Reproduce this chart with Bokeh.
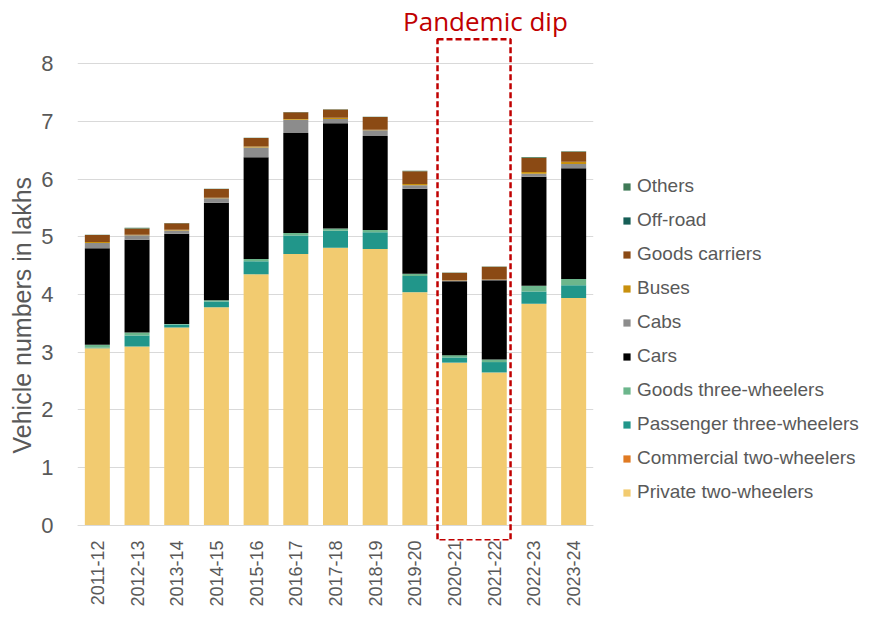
import math
from bokeh.plotting import figure
from bokeh.models import (FactorRange, Range1d, FixedTicker, Legend, LegendItem,
                          BoxAnnotation, Span, Title, Label, ColumnDataSource)
from bokeh.embed import file_html
from bokeh.resources import INLINE

years = ["2011-12", "2012-13", "2013-14", "2014-15", "2015-16", "2016-17", "2017-18",
         "2018-19", "2019-20", "2020-21", "2021-22", "2022-23", "2023-24"]

private_2w = [3.07, 3.10, 3.43, 3.78, 4.35, 4.70, 4.81, 4.79, 4.04, 2.82, 2.65, 3.84, 3.94]
commercial_2w = [0.0, 0.0, 0.0, 0.0, 0.0, 0.0, 0.0, 0.0, 0.0, 0.0, 0.0, 0.0, 0.0]
passenger_3w = [0.01, 0.19, 0.05, 0.10, 0.225, 0.32, 0.295, 0.29, 0.28, 0.09, 0.18, 0.21, 0.22]
goods_3w = [0.05, 0.05, 0.01, 0.02, 0.04, 0.045, 0.04, 0.035, 0.04, 0.04, 0.045, 0.10, 0.11]
cars = [1.67, 1.61, 1.56, 1.69, 1.76, 1.73, 1.82, 1.63, 1.47, 1.28, 1.37, 1.89, 1.915]
cabs = [0.09, 0.075, 0.06, 0.075, 0.17, 0.23, 0.075, 0.10, 0.06, 0.01, 0.01, 0.05, 0.075]
buses = [0.02, 0.01, 0.01, 0.01, 0.02, 0.015, 0.02, 0.01, 0.025, 0.005, 0.005, 0.03, 0.04]
goods_carriers = [0.12, 0.11, 0.115, 0.15, 0.145, 0.115, 0.145, 0.22, 0.22, 0.13, 0.22, 0.25, 0.17]
off_road = [0.0, 0.0, 0.0, 0.0, 0.0, 0.0, 0.0, 0.0, 0.0, 0.0, 0.0, 0.0, 0.0]
others = [0.005, 0.01, 0.005, 0.005, 0.005, 0.005, 0.005, 0.005, 0.01, 0.005, 0.005, 0.01, 0.01]

series_keys = ["p2w", "c2w", "p3w", "g3w", "cars", "cabs", "buses", "goods", "offroad", "others"]
series_names = ["Private two-wheelers", "Commercial two-wheelers", "Passenger three-wheelers",
                "Goods three-wheelers", "Cars", "Cabs", "Buses", "Goods carriers", "Off-road", "Others"]
series_colors = ["#f2cb70", "#e07a22", "#21968a", "#6cb68c", "#000000", "#8c8c8c",
                 "#c8900e", "#8b4a14", "#165e56", "#3f7a57"]

y_ticks = [0, 1, 2, 3, 4, 5, 6, 7, 8]

source = ColumnDataSource(dict(
    year=years, p2w=private_2w, c2w=commercial_2w, p3w=passenger_3w, g3w=goods_3w,
    cars=cars, cabs=cabs, buses=buses, goods=goods_carriers, offroad=off_road, others=others))

TXT = "#595959"
FONT = "Liberation Sans"

p = figure(x_range=FactorRange(factors=years, range_padding=0),
           y_range=Range1d(-0.26, 8.97),
           frame_width=516, frame_height=533,
           min_border_left=77, min_border_top=7, min_border_right=266, min_border_bottom=77,
           output_backend="svg", toolbar_location=None)
p.outline_line_color = None
p.background_fill_color = "white"
p.border_fill_color = "white"

renderers = p.vbar_stack(series_keys, x="year", width=0.63, color=series_colors,
                         line_color=None, source=source)

# axes
p.yaxis.ticker = FixedTicker(ticks=y_ticks)
p.yaxis.axis_line_color = None
p.yaxis.major_tick_line_color = None
p.yaxis.minor_tick_line_color = None
p.yaxis.major_tick_out = 0
p.yaxis.major_label_standoff = 24
p.yaxis.major_label_text_font = FONT
p.yaxis.major_label_text_font_size = "22px"
p.yaxis.major_label_text_color = TXT

p.xaxis.axis_line_color = None
p.xaxis.major_tick_line_color = None
p.xaxis.major_tick_out = 0
p.xaxis.major_label_standoff = 0
p.xaxis.major_label_orientation = math.pi / 2
p.xaxis.major_label_text_font = FONT
p.xaxis.major_label_text_font_size = "18px"
p.xaxis.major_label_text_color = TXT

p.xgrid.grid_line_color = None
p.ygrid.ticker = FixedTicker(ticks=y_ticks)
p.ygrid.grid_line_color = "#d9d9d9"
p.ygrid.grid_line_width = 1

p.add_layout(Span(location=0, dimension="width", line_color="#d9d9d9", line_width=1.2))

# y-axis title as a rotated side title (allows positioning along the axis)
p.add_layout(Title(text="Vehicle numbers in lakhs", align="left", offset=87, standoff=6,
                   text_font=FONT, text_font_style="normal", text_font_size="25px",
                   text_color=TXT), "left")

# pandemic box + heading
p.add_layout(BoxAnnotation(left=9.07, right=10.91, bottom=-0.255, top=8.42,
                           fill_color=None, fill_alpha=0, line_color="#c00000",
                           line_alpha=1.0, line_width=2.5, line_dash="6 3"))
p.add_layout(Label(x=10.0, y=8.74, x_offset=11, text="Pandemic dip",
                   text_font="Open Sans", text_font_size="26px", text_color="#c00000",
                   text_align="center", text_baseline="alphabetic"))

items = [LegendItem(label=n, renderers=[r]) for n, r in zip(series_names, renderers)][::-1]
legend = Legend(items=items, location=(29, 37), margin=0, padding=0,
                glyph_width=9, glyph_height=9, label_height=20, spacing=12,
                label_standoff=6, label_text_font=FONT, label_text_font_size="19px",
                label_text_color=TXT, border_line_color=None, background_fill_alpha=0)
p.add_layout(legend, "right")

open("out.html", "w").write(file_html(p, INLINE))
